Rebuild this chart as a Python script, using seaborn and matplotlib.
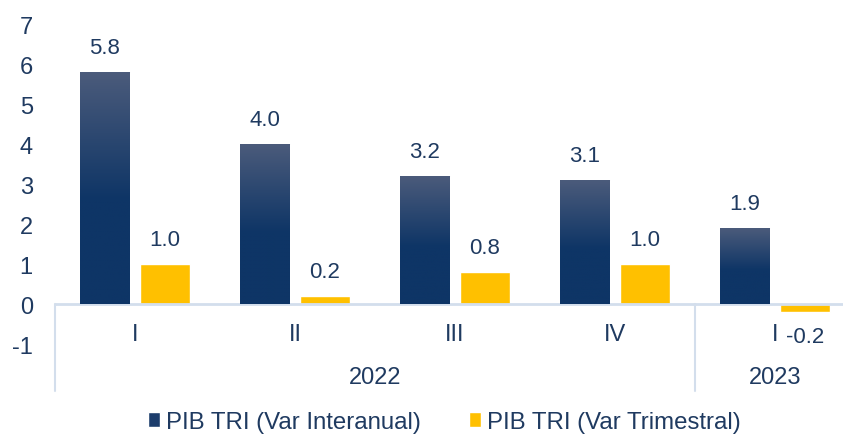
import numpy as np
import pandas as pd
import matplotlib.pyplot as plt
import seaborn as sns
from matplotlib.colors import to_rgb
from matplotlib.patches import Patch

# datos
quarters = ["I", "II", "III", "IV", "I"]
years = ["2022", "2022", "2022", "2022", "2023"]
interanual = [5.8, 4.0, 3.2, 3.1, 1.9]
trimestral = [1.0, 0.2, 0.8, 1.0, -0.2]
series = ["PIB TRI (Var Interanual)", "PIB TRI (Var Trimestral)"]

periods = [f"{y} {q}" for y, q in zip(years, quarters)]
df = pd.DataFrame({
    "periodo": periods * 2,
    "valor": interanual + trimestral,
    "serie": [series[0]] * len(periods) + [series[1]] * len(periods),
})

blue_dark = "#0e3566"
blue_top = "#4b5b7b"
yellow = "#ffc000"
text_col = "#1f3a60"
line_col = "#d3deec"

sns.set_theme(style="white")
plt.rcParams["font.family"] = ["Liberation Sans", "DejaVu Sans"]
plt.rcParams["axes.unicode_minus"] = False

fig = plt.figure(figsize=(8.43, 4.35), dpi=100)
ax = fig.add_axes([55 / 843, 90 / 435, 800 / 843, 320 / 435])

sns.barplot(data=df, x="periodo", y="valor", hue="serie", order=periods,
            hue_order=series, palette=[blue_dark, yellow], width=0.75,
            gap=0.167, saturation=1, legend=False, ax=ax)

# degradado en las barras azules
t = np.linspace(0, 1, 200)
k = np.clip(t / 0.55, 0, 1)[:, None]
grad = (1 - k) * np.array(to_rgb(blue_top)) + k * np.array(to_rgb(blue_dark))
grad = grad[:, None, :]
for bar in ax.containers[0]:
    x0, w, h = bar.get_x(), bar.get_width(), bar.get_height()
    im = ax.imshow(grad, extent=[x0, x0 + w, 0, h], aspect="auto",
                   origin="upper", zorder=bar.get_zorder() + 0.1)
    im.set_clip_path(bar)

for cont in ax.containers:
    ax.bar_label(cont, fmt="%.1f", padding=10, fontsize=16, color=text_col)

ax.set_xlim(-0.5, len(periods) - 0.5)
ax.set_ylim(-1, 7)
ax.set_yticks(range(-1, 8))
ax.tick_params(axis="y", labelsize=17, labelcolor=text_col, length=0, pad=16)
ax.set_xticks([])
ax.set_xlabel("")
ax.set_ylabel("")
for s in ax.spines.values():
    s.set_visible(False)

ax.axhline(0, color=line_col, lw=2, zorder=1, clip_on=False)

# eje de categorias en dos niveles
for i, q in enumerate(quarters):
    ax.text(i, -0.75, q, ha="center", va="center", fontsize=17, color=text_col)
year_groups = {}
for i, y in enumerate(years):
    year_groups.setdefault(y, []).append(i)
bounds = [-0.5]
for y, idx in year_groups.items():
    ax.text((idx[0] + idx[-1]) / 2, -1.83, y, ha="center", va="center",
            fontsize=17, color=text_col, clip_on=False)
    bounds.append(idx[-1] + 0.5)
for b in bounds:
    ax.plot([b, b], [0, -2.18], color=line_col, lw=1.5, clip_on=False)

handles = [Patch(facecolor="#1c3d6c"), Patch(facecolor=yellow)]
fig.legend(handles, series, loc="center", bbox_to_anchor=(0.527, 1 - 423 / 435),
           ncol=2, frameon=False, fontsize=17.3, labelcolor=text_col,
           handlelength=0.5, handleheight=0.6, handletextpad=0.25,
           columnspacing=2.0)

fig.savefig("out.png", dpi=100)
